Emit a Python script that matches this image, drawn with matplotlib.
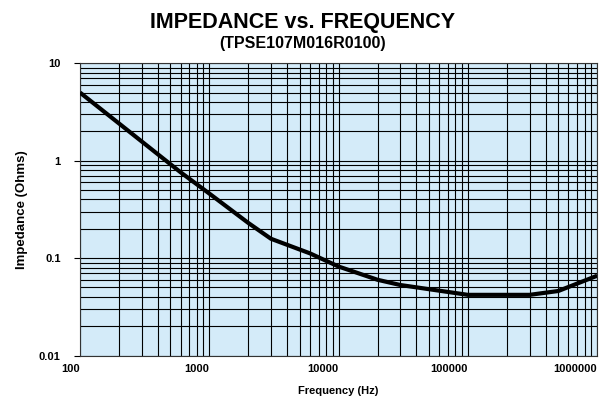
import matplotlib
matplotlib.use("Agg")
import matplotlib.pyplot as plt
from matplotlib.ticker import LogLocator, NullFormatter

plt.rcParams['font.family'] = ['Liberation Sans', 'DejaVu Sans']
plt.rcParams['font.weight'] = 'bold'

# impedance curve
freq_hz = [100, 600, 1000, 2000, 3000, 6000, 10000, 20000, 30000,
           100000, 300000, 500000, 1000000]
impedance_ohm = [5.0, 0.76, 0.46, 0.23, 0.158, 0.112, 0.082, 0.060, 0.053,
                 0.042, 0.042, 0.046, 0.066]

x_ticks = [100, 1000, 10000, 100000, 1000000]
x_labels = ['100', '1000', '10000', '100000', '1000000']
y_ticks = [0.01, 0.1, 1, 10]
y_labels = ['0.01', '0.1', '1', '10']

fig = plt.figure(figsize=(6, 4), dpi=100)
ax = fig.add_axes([0.1333, 0.111, 0.862, 0.731])
ax.set_facecolor('#d4ebf9')

ax.set_xscale('log')
ax.set_yscale('log')
ax.set_xlim(100, 1000000)
ax.set_ylim(0.01, 10)

ax.xaxis.set_minor_locator(LogLocator(base=10, subs=range(2, 10)))
ax.yaxis.set_minor_locator(LogLocator(base=10, subs=range(2, 10)))
ax.xaxis.set_minor_formatter(NullFormatter())
ax.yaxis.set_minor_formatter(NullFormatter())

ax.grid(True, which='both', color='black', linewidth=0.8)
ax.set_axisbelow(True)

ax.plot(freq_hz, impedance_ohm, color='black', linewidth=3, solid_capstyle='butt', zorder=3)

ax.set_xticks(x_ticks)
ax.set_xticklabels(x_labels, fontsize=8, fontweight='bold', ha='right')
ax.set_yticks(y_ticks)
ax.set_yticklabels(y_labels, fontsize=8, fontweight='bold')
ax.tick_params(axis='x', which='both', length=0, pad=6)
ax.tick_params(axis='y', which='major', length=4, width=0.8, pad=10)
ax.tick_params(axis='y', which='minor', length=0)

for s in ax.spines.values():
    s.set_color('#333333')
    s.set_linewidth(0.8)

ax.set_xlabel('Frequency (Hz)', fontsize=8, fontweight='bold', labelpad=9)
ax.set_ylabel('Impedance (Ohms)', fontsize=9.5, fontweight='bold', labelpad=8)

fig.text(0.505, 0.929, 'IMPEDANCE vs. FREQUENCY', ha='center', va='baseline',
         fontsize=15.5, fontweight='bold')
fig.text(0.505, 0.879, '(TPSE107M016R0100)', ha='center', va='baseline',
         fontsize=11.5, fontweight='bold')

fig.savefig('out.png', dpi=100)
